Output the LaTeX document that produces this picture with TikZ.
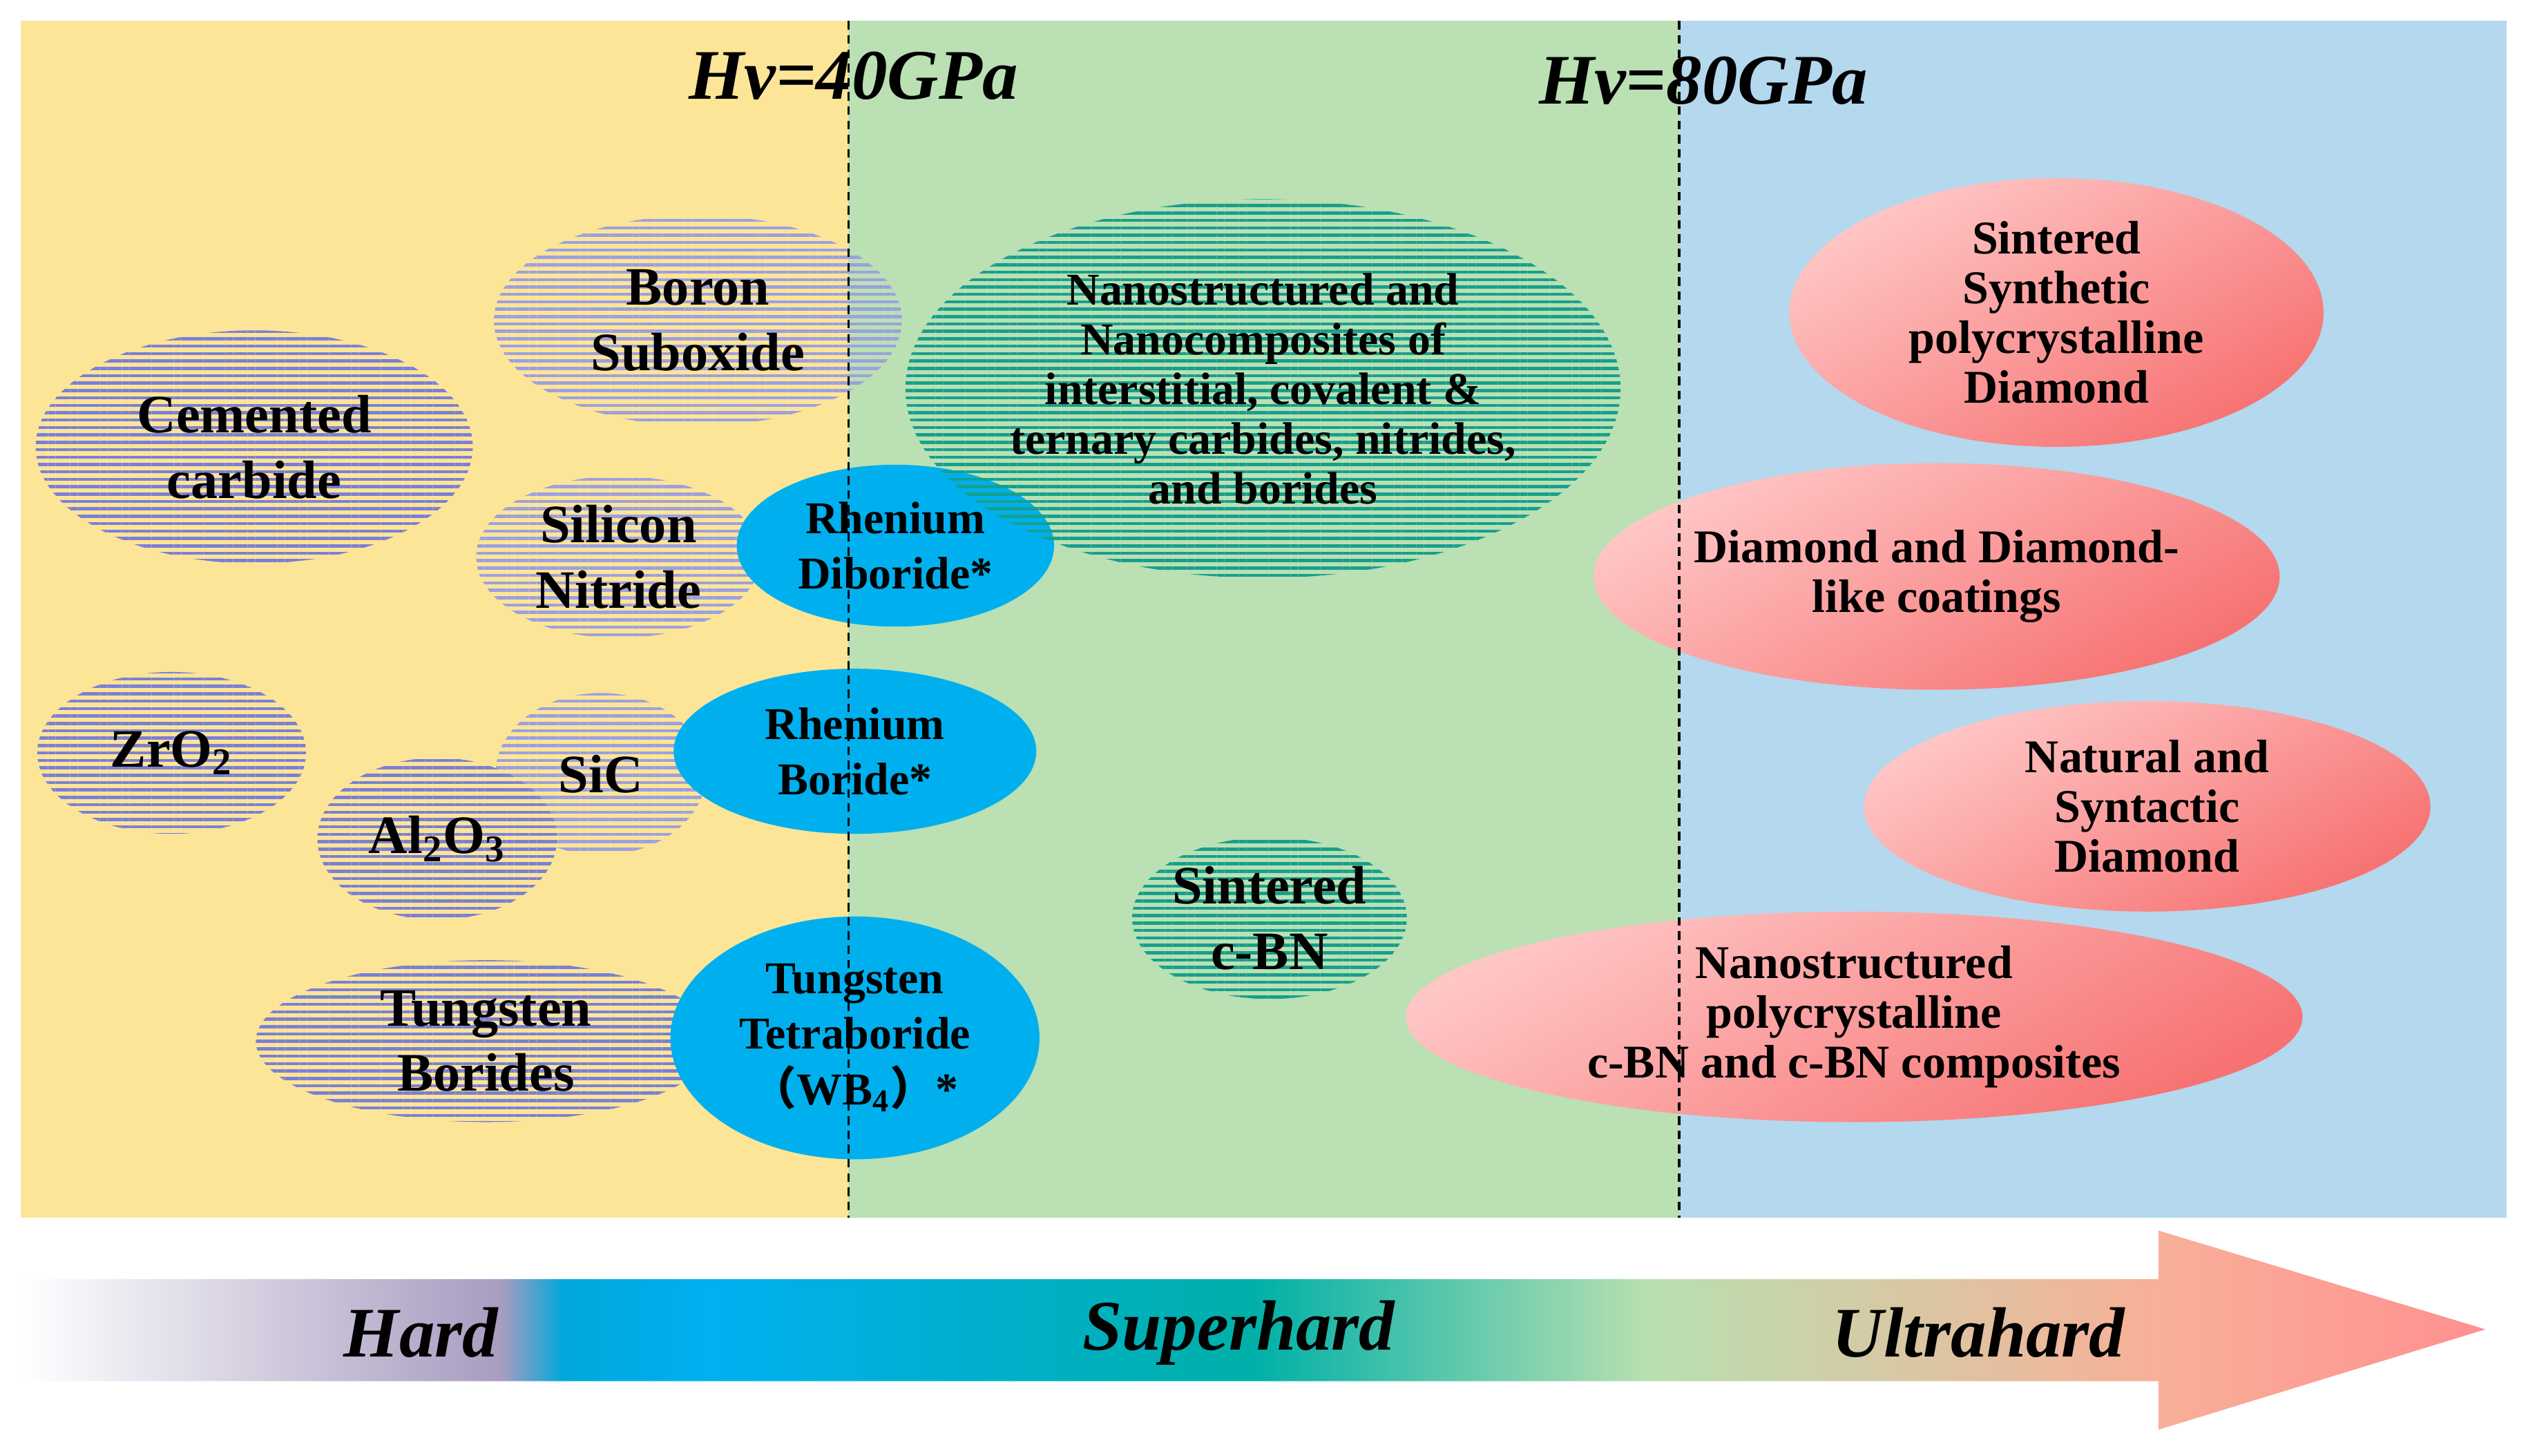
\documentclass[tikz,border=0pt]{standalone}
\usepackage{fontspec}
\setmainfont{Liberation Serif}
\newfontfamily\cjk{Noto Sans CJK SC}
\usetikzlibrary{shapes.geometric,patterns.meta}
\definecolor{bgY}{HTML}{FCE597}
\definecolor{bgG}{HTML}{BAE0B4}
\definecolor{bgB}{HTML}{B4D8EE}
\definecolor{stripe}{HTML}{7B7FD6}
\definecolor{teal1}{HTML}{16A08C}
\definecolor{cyanB}{HTML}{00B0EE}
\definecolor{pinkL}{HTML}{FFC6C6}
\definecolor{pinkD}{HTML}{F77272}
\definecolor{sA}{RGB}{168,156,192}
\definecolor{sB}{RGB}{0,168,220}
\definecolor{sC}{RGB}{0,176,240}
\definecolor{sD}{RGB}{0,176,168}
\definecolor{sE}{RGB}{184,224,176}
\definecolor{sF}{RGB}{248,176,152}
\definecolor{sG}{RGB}{255,144,144}
\pgfdeclarehorizontalshading{scaleshade}{100bp}{color(0bp)=(white); color(25bp)=(white); color(34.75bp)=(sA); color(36bp)=(sB); color(39bp)=(sC); color(50bp)=(sD); color(58bp)=(sE); color(68.3bp)=(sF); color(75bp)=(sG); color(100bp)=(sG)}
\tikzset{
 lbl/.style={font=\fontsize{19}{23}\selectfont\bfseries, align=center},
 sml/.style={font=\fontsize{16}{19.5}\selectfont\bfseries, align=center},
 ell/.style={ellipse, inner sep=0pt},
 striped/.style={ell, pattern={Lines[angle=0,distance=2.6pt,line width=1.1pt]}, pattern color=stripe},
 gridst/.style={ell, pattern={Lines[angle=0,distance=2.6pt,line width=1.1pt]}, pattern color=stripe!75},
 tealst/.style={ell, pattern={Lines[angle=0,distance=2.6pt,line width=1.1pt]}, pattern color=teal1},
 blueell/.style={ell, fill=cyanB},
 redell/.style={ell, top color=pinkL, bottom color=pinkD, shading angle=30},
 divider/.style={densely dashed, line width=0.9pt},
 hv/.style={font=\fontsize{25}{30}\selectfont\bfseries\itshape},
 cls/.style={font=\fontsize{25}{30}\selectfont\bfseries\itshape}
}
\begin{document}
\begin{tikzpicture}[x=0.02cm,y=-0.02cm]
\useasboundingbox (0,0) rectangle (1560,899);
\fill[bgY] (13,13) rectangle (524,752);
\fill[bgG] (524,13) rectangle (1037,752);
\fill[bgB] (1037,13) rectangle (1548,752);
% hard materials
\node[striped, minimum width=5.4cm, minimum height=2.88cm, lbl] (cem) at (157,276) {Cemented\\carbide};
\node[gridst, minimum width=5.04cm, minimum height=2.6cm, lbl] (bor) at (431,198) {Boron\\Suboxide};
\node[gridst, minimum width=3.52cm, minimum height=2.0cm, lbl] (sin) at (382,344) {Silicon\\Nitride};
\node[striped, minimum width=3.32cm, minimum height=2.0cm, lbl] (zro) at (106,465) {ZrO\textsubscript{2}};
\node[gridst, minimum width=2.6cm, minimum height=2.0cm, lbl] (sic) at (371,478) {SiC};
\node[striped, minimum width=2.96cm, minimum height=2.0cm, lbl] (alo) at (270,518) {Al\textsubscript{2}O\textsubscript{3}};
\node[striped, minimum width=5.68cm, minimum height=2.0cm, lbl] (tb) at (300,643) {Tungsten\\Borides};
% superhard
\node[blueell, minimum width=3.92cm, minimum height=2.0cm, sml] (red) at (553,337) {Rhenium\\Diboride*};
\node[blueell, minimum width=4.48cm, minimum height=2.04cm, sml] (rb) at (528,464) {Rhenium\\Boride*};
\node[blueell, minimum width=4.56cm, minimum height=3.0cm, sml] (wb) at (528,641) {Tungsten\\Tetraboride\\{\cjk （}WB\textsubscript{4}{\cjk ）}*};
\node[tealst, minimum width=8.32cm, minimum height=4.68cm, sml, font=\fontsize{16}{17.5}\selectfont\bfseries] (nano) at (780,240) {Nanostructured and\\Nanocomposites of\\interstitial, covalent \&\\ternary carbides, nitrides,\\and borides};
\node[tealst, minimum width=3.28cm, minimum height=2.0cm, lbl] (cbn) at (784,567) {Sintered\\c-BN};
% ultrahard
\node[redell, minimum width=6.6cm, minimum height=3.32cm, sml, font=\fontsize{16.5}{17.5}\selectfont\bfseries] (ssd) at (1270,193) {Sintered\\Synthetic\\polycrystalline\\Diamond};
\node[redell, minimum width=7.8cm, minimum height=2.8cm, sml, font=\fontsize{16.5}{17.5}\selectfont\bfseries] (dlc) at (1196,356) {Diamond and Diamond-\\like coatings};
\node[redell, minimum width=7.0cm, minimum height=2.6cm, sml, font=\fontsize{16.5}{17.5}\selectfont\bfseries] (nat) at (1326,498) {Natural and\\Syntactic\\Diamond};
\node[redell, minimum width=11.08cm, minimum height=2.6cm, sml, font=\fontsize{16.5}{17.5}\selectfont\bfseries] (pcbn) at (1145,628) {Nanostructured\\polycrystalline\\c-BN and c-BN composites};
% dividers
\coordinate (d1t) at (524,13); \coordinate (d1b) at (524,752);
\coordinate (d2t) at (1037,13); \coordinate (d2b) at (1037,752);
\node[hv] (hv40) at (527,47) {Hv=40GPa};
\node[hv] (hv80) at (1052,50) {Hv=80GPa};
\draw[divider] (d1t) -- (d1b);
\draw[divider] (d2t) -- (d2b);
% arrow
\shade[shading=scaleshade] (13,790) -- (1333,790) -- (1333,760) -- (1535,821) -- (1333,883) -- (1333,853) -- (13,853) -- cycle;
\node[cls] (hard) at (260,823) {Hard};
\node[cls] (super) at (765,823) {Superhard};
\node[cls] (ultra) at (1222,823) {Ultrahard};
\end{tikzpicture}
\end{document}
